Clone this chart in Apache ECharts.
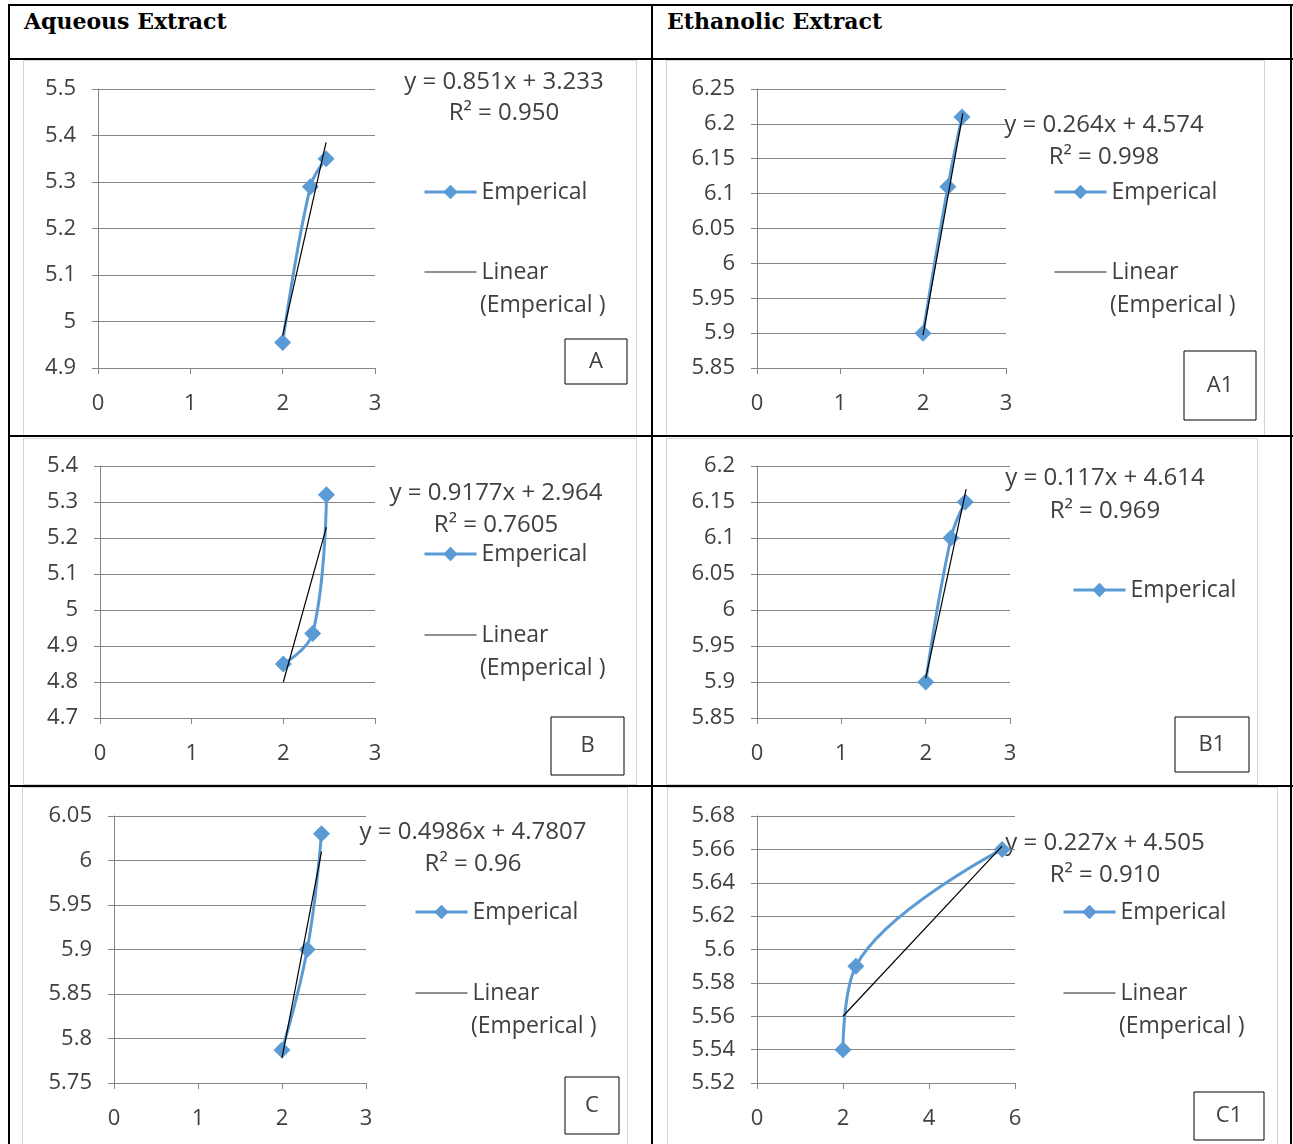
<!DOCTYPE html>
<html>
<head>
<meta charset="utf-8">
<script src="https://cdn.jsdelivr.net/npm/echarts@6/dist/echarts.min.js"></script>
<style>
  body { margin: 0; background: #fff; }
  #page { position: relative; width: 1293px; height: 1144px; overflow: hidden; }
  .hline, .vline { position: absolute; background: #000; }
  .frame { position: absolute; border: 1px solid #d4d4d4; box-sizing: border-box; }
  .head { position: absolute; font-family: "DejaVu Serif"; font-weight: bold; font-size: 22px; color: #000; }
  #chart { position: absolute; left: 0; top: 0; width: 1293px; height: 1144px; }
</style>
</head>
<body>
<div id="page">
  <div class="frame" style="left:23px;top:60px;width:614px;height:376px"></div>
  <div class="frame" style="left:666px;top:60px;width:599px;height:376px"></div>
  <div class="frame" style="left:23px;top:438px;width:614px;height:347px"></div>
  <div class="frame" style="left:666px;top:438px;width:592px;height:347px"></div>
  <div class="frame" style="left:22px;top:787px;width:606px;height:370px"></div>
  <div class="frame" style="left:667px;top:787px;width:611px;height:370px"></div>

  <div class="hline" style="left:8px;top:4px;width:1285px;height:2px"></div>
  <div class="hline" style="left:8px;top:58px;width:1285px;height:2px"></div>
  <div class="hline" style="left:8px;top:435px;width:1285px;height:2px"></div>
  <div class="hline" style="left:8px;top:785px;width:1285px;height:2px"></div>
  <div class="vline" style="left:8px;top:4px;width:2px;height:1140px"></div>
  <div class="vline" style="left:651px;top:4px;width:2px;height:1140px"></div>
  <div class="vline" style="left:1290px;top:4px;width:2px;height:1140px"></div>

  <div class="head" style="left:24px;top:8px">Aqueous Extract</div>
  <div class="head" style="left:667px;top:8px">Ethanolic Extract</div>

  <div id="chart"></div>
</div>
<script>
// values (x = log concentration, y = response)
const xA = [2, 2.3, 2.47];
const yA = [4.955, 5.29, 5.35];
const trendXA = [2, 2.47];
const trendYA = [4.97, 5.385];

const xA1 = [2, 2.3, 2.47];
const yA1 = [5.90, 6.11, 6.21];
const trendXA1 = [2, 2.48];
const trendYA1 = [5.897, 6.215];

const xB = [2, 2.32, 2.47];
const yB = [4.85, 4.935, 5.32];
const trendXB = [2, 2.47];
const trendYB = [4.80, 5.23];

const xB1 = [2, 2.3, 2.47];
const yB1 = [5.90, 6.10, 6.15];
const trendXB1 = [2, 2.48];
const trendYB1 = [5.905, 6.168];

const xC = [2, 2.3, 2.47];
const yC = [5.787, 5.90, 6.03];
const trendXC = [2, 2.47];
const trendYC = [5.778, 6.01];

const xC1 = [2, 2.3, 5.7];
const yC1 = [5.54, 5.59, 5.66];
const trendXC1 = [2, 5.7];
const trendYC1 = [5.56, 5.662];

const equations = [
  ['y = 0.851x + 3.233', 'R\u00b2 = 0.950'],
  ['y = 0.264x + 4.574', 'R\u00b2 = 0.998'],
  ['y = 0.9177x + 2.964', 'R\u00b2 = 0.7605'],
  ['y = 0.117x + 4.614', 'R\u00b2 = 0.969'],
  ['y = 0.4986x + 4.7807', 'R\u00b2 = 0.96'],
  ['y = 0.227x + 4.505', 'R\u00b2 = 0.910']
];
const panelLabels = ['A', 'A1', 'B', 'B1', 'C', 'C1'];
const seriesName = 'Emperical';
const trendName = 'Linear (Emperical )';

const panels = [
  { x: xA, y: yA, tx: trendXA, ty: trendYA, yMin: 4.9, yMax: 5.5, yStep: 0.1, xMax: 3, xStep: 1,
    grid: [98, 89, 277, 279], eq: [504, 82, 113], leg: [423, 192, 272], box: [565, 339, 62, 45] },
  { x: xA1, y: yA1, tx: trendXA1, ty: trendYA1, yMin: 5.85, yMax: 6.25, yStep: 0.05, xMax: 3, xStep: 1,
    grid: [757, 89, 249, 279], eq: [1104, 125, 157], leg: [1053, 192, 272], box: [1184, 351, 72, 69] },
  { x: xB, y: yB, tx: trendXB, ty: trendYB, yMin: 4.7, yMax: 5.4, yStep: 0.1, xMax: 3, xStep: 1,
    grid: [100, 466, 275, 252], eq: [496, 493, 525], leg: [423, 554, 635], box: [551, 717, 73, 58] },
  { x: xB1, y: yB1, tx: trendXB1, ty: trendYB1, yMin: 5.85, yMax: 6.2, yStep: 0.05, xMax: 3, xStep: 1,
    grid: [757, 466, 253, 252], eq: [1105, 478, 511], leg: [1072, 590, null], box: [1175, 717, 74, 55] },
  { x: xC, y: yC, tx: trendXC, ty: trendYC, yMin: 5.75, yMax: 6.05, yStep: 0.05, xMax: 3, xStep: 1,
    grid: [114, 816, 252, 267], eq: [473, 832, 864], leg: [414, 912, 993], box: [565, 1077, 54, 57] },
  { x: xC1, y: yC1, tx: trendXC1, ty: trendYC1, yMin: 5.52, yMax: 5.68, yStep: 0.02, xMax: 6, xStep: 2,
    grid: [757, 816, 258, 267], eq: [1105, 843, 875], leg: [1062, 912, 993], box: [1194, 1092, 70, 48] }
];

const FONT = '"Open Sans", "Noto Sans", sans-serif';
const TXT = '#404040';
const GRIDC = '#858585';
const BLUE = '#5b9bd5';

var chartDom = document.getElementById('chart');
var myChart = echarts.init(chartDom);

const grids = [], xAxes = [], yAxes = [], series = [], legends = [], graphics = [];

panels.forEach(function (p, i) {
  grids.push({ left: p.grid[0], top: p.grid[1], width: p.grid[2], height: p.grid[3] });
  xAxes.push({
    type: 'value', gridIndex: i, min: 0, max: p.xMax, interval: p.xStep,
    axisLine: { show: true, lineStyle: { color: GRIDC, width: 1 } },
    axisTick: { show: true, length: 6, lineStyle: { color: GRIDC } },
    axisLabel: { color: TXT, fontFamily: FONT, fontSize: 22, margin: 25 },
    splitLine: { show: false }
  });
  yAxes.push({
    type: 'value', gridIndex: i, min: p.yMin, max: p.yMax, interval: p.yStep,
    axisLine: { show: true, lineStyle: { color: GRIDC, width: 1 } },
    axisTick: { show: true, length: 6, lineStyle: { color: GRIDC } },
    axisLabel: { color: TXT, fontFamily: FONT, fontSize: 22, margin: 22 },
    splitLine: { show: true, lineStyle: { color: GRIDC, width: 1 } }
  });
  series.push({
    name: seriesName, type: 'line', xAxisIndex: i, yAxisIndex: i,
    data: p.x.map(function (v, k) { return [v, p.y[k]]; }),
    smooth: 0.4, symbol: 'diamond', symbolSize: 17,
    lineStyle: { color: BLUE, width: 3 },
    itemStyle: { color: BLUE },
    z: 2
  });
  series.push({
    name: trendName, type: 'line', xAxisIndex: i, yAxisIndex: i,
    data: p.tx.map(function (v, k) { return [v, p.ty[k]]; }),
    symbol: 'none', lineStyle: { color: '#000', width: 1.2 },
    itemStyle: { color: '#000' },
    z: 3
  });
  const names = [{ name: seriesName, lineStyle: { width: 3 } }];
  if (p.leg[2] !== null) {
    names.push({ name: trendName, icon: 'path://M0,0 L100,0 L100,2.4 L0,2.4 Z', itemStyle: { color: '#222' } });
  }
  legends.push({
    data: names, orient: 'vertical', left: p.leg[0], top: p.leg[1] - 13,
    padding: 0, itemWidth: 52, itemHeight: 18,
    itemGap: p.leg[2] !== null ? (p.leg[2] - p.leg[1] - 26) : 10,
    selectedMode: false,
    formatter: function (n) { return n === trendName ? 'Linear' : n; },
    textStyle: { color: TXT, fontFamily: FONT, fontSize: 23, lineHeight: 26 }
  });
  if (p.leg[2] !== null) {
    graphics.push({
      type: 'text', left: p.leg[0] + 57, top: p.leg[2] + 32 - 10,
      style: { text: '(Emperical )', fill: TXT, font: '23px ' + FONT }
    });
  }
  graphics.push({
    type: 'text', x: p.eq[0], y: p.eq[1],
    style: { text: equations[i][0], fill: TXT, font: '24px ' + FONT, align: 'center', verticalAlign: 'middle' }
  });
  graphics.push({
    type: 'text', x: p.eq[0], y: p.eq[2],
    style: { text: equations[i][1], fill: TXT, font: '24px ' + FONT, align: 'center', verticalAlign: 'middle' }
  });
  graphics.push({
    type: 'rect', shape: { x: p.box[0], y: p.box[1], width: p.box[2], height: p.box[3] },
    style: { fill: '#fff', stroke: '#000', lineWidth: 1 }
  });
  graphics.push({
    type: 'text', x: p.box[0] + p.box[2] / 2, y: p.box[1] + p.box[3] / 2,
    style: { text: panelLabels[i], fill: TXT, font: '22px ' + FONT, align: 'center', verticalAlign: 'middle' }
  });
});

var option = {
  animation: false,
  grid: grids,
  xAxis: xAxes,
  yAxis: yAxes,
  legend: legends,
  series: series,
  graphic: graphics
};

option && myChart.setOption(option);
</script>
</body>
</html>
